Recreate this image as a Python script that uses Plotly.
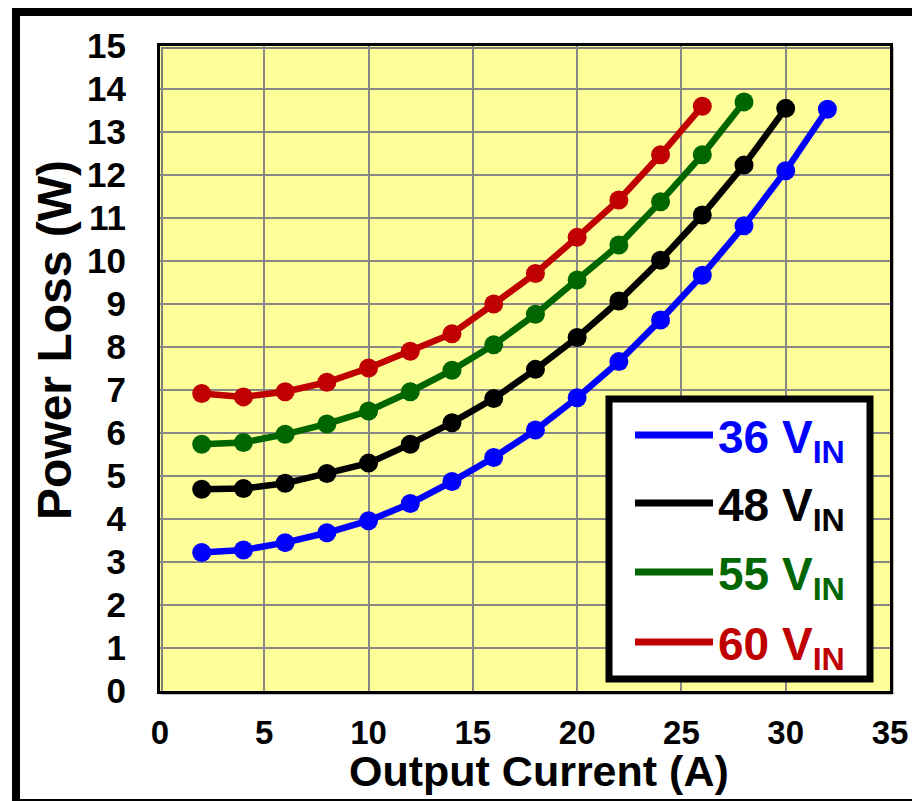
import plotly.graph_objects as go

# ---- data ----
current_36 = [2, 4, 6, 8, 10, 12, 14, 16, 18, 20, 22, 24, 26, 28, 30, 32]
loss_36 = [3.22, 3.28, 3.45, 3.68, 3.96, 4.36, 4.87, 5.43, 6.07, 6.82, 7.66, 8.63, 9.67, 10.82, 12.10, 13.53]

current_48 = [2, 4, 6, 8, 10, 12, 14, 16, 18, 20, 22, 24, 26, 28, 30]
loss_48 = [4.69, 4.71, 4.83, 5.06, 5.30, 5.74, 6.24, 6.80, 7.48, 8.22, 9.07, 10.02, 11.07, 12.23, 13.55]

current_55 = [2, 4, 6, 8, 10, 12, 14, 16, 18, 20, 22, 24, 26, 28]
loss_55 = [5.74, 5.78, 5.97, 6.21, 6.51, 6.96, 7.46, 8.05, 8.76, 9.56, 10.37, 11.38, 12.47, 13.70]

current_60 = [2, 4, 6, 8, 10, 12, 14, 16, 18, 20, 22, 24, 26]
loss_60 = [6.92, 6.84, 6.96, 7.18, 7.51, 7.90, 8.31, 9.00, 9.71, 10.55, 11.42, 12.47, 13.60]

series_names = ["36", "48", "55", "60"]
series_colors = ["#0000FF", "#000000", "#006600", "#C00000"]
series_x = [current_36, current_48, current_55, current_60]
series_y = [loss_36, loss_48, loss_55, loss_60]

x_title = "Output Current (A)"
y_title = "Power Loss (W)"

FONT = "Liberation Sans, Arial, Helvetica, sans-serif"

# ---- figure geometry (pixels) ----
# the page body has an 8px margin, so the figure is drawn 8px smaller
W, H = 912, 793
L, R, T, B = 152, 30, 38, 110
PW, PH = W - L - R, H - T - B  # 730 x 645

# page-pixel -> paper coordinates (plot area spans page x 160..890, y 46..691)
def px(xp):
    return (xp - 160) / PW


def py(yp):
    return (691 - yp) / PH


fig = go.Figure()
for name, color, xs, ys in zip(series_names, series_colors, series_x, series_y):
    fig.add_trace(go.Scatter(
        x=xs, y=ys, mode="lines+markers", name=f"{name} V<sub>IN</sub>",
        line=dict(color=color, width=6.5),
        marker=dict(color=color, size=19),
        showlegend=False,
    ))

shapes = []
# outer frame around the whole chart
shapes.append(dict(type="rect", xref="paper", yref="paper",
                   x0=px(16), x1=px(935), y0=py(803), y1=py(12),
                   line=dict(color="black", width=8), fillcolor="rgba(0,0,0,0)", layer="above"))
# plot-area shadow
shapes.append(dict(type="rect", xref="paper", yref="paper",
                   x0=px(162), x1=px(892.5), y0=py(693.5), y1=py(48),
                   line=dict(color="#7f7f7f", width=2), fillcolor="rgba(0,0,0,0)", layer="below"))
# legend box
shapes.append(dict(type="rect", xref="paper", yref="paper",
                   x0=px(609), x1=px(870), y0=py(679), y1=py(399),
                   line=dict(color="black", width=7), fillcolor="white", layer="above"))

annotations = []
legend_y = [435, 503, 572, 642]
for name, color, ly in zip(series_names, series_colors, legend_y):
    shapes.append(dict(type="line", xref="paper", yref="paper",
                       x0=px(635), x1=px(713), y0=py(ly), y1=py(ly),
                       line=dict(color=color, width=7), layer="above"))
    annotations.append(dict(xref="paper", yref="paper", x=px(716), y=py(ly + 5),
                            xanchor="left", yanchor="middle", showarrow=False,
                            text=f"{name} V<sub>IN</sub>",
                            font=dict(family=FONT, size=46, color=color, weight="bold")))

annotations.append(dict(xref="paper", yref="paper", x=px(54), y=py(340),
                        xanchor="center", yanchor="middle", showarrow=False, textangle=-90,
                        text=y_title, font=dict(family=FONT, size=48, color="black", weight="bold")))
annotations.append(dict(xref="paper", yref="paper", x=px(539), y=py(771),
                        xanchor="center", yanchor="middle", showarrow=False,
                        text=x_title, font=dict(family=FONT, size=43, color="black", weight="bold")))

fig.update_layout(
    width=W, height=H, autosize=False,
    margin=dict(l=L, r=R, t=T, b=B, pad=0),
    paper_bgcolor="white", plot_bgcolor="#FFFF99",
    shapes=shapes, annotations=annotations,
    showlegend=False,
    font=dict(family=FONT, color="black"),
)
fig.update_xaxes(range=[0, 35], dtick=5, tick0=0, showgrid=True, gridcolor="#888888", gridwidth=2,
                 zeroline=False, showline=True, linecolor="black", linewidth=3, mirror=True,
                 ticks="", ticklabelstandoff=10,
                 tickfont=dict(family=FONT, size=33, color="black", weight="bold"))
fig.update_yaxes(range=[0, 15], dtick=1, tick0=0, showgrid=True, gridcolor="#888888", gridwidth=2,
                 zeroline=False, showline=True, linecolor="black", linewidth=3, mirror=True,
                 ticks="", ticklabelstandoff=24,
                 tickfont=dict(family=FONT, size=35, color="black", weight="bold"))

fig.write_html("out.html")
